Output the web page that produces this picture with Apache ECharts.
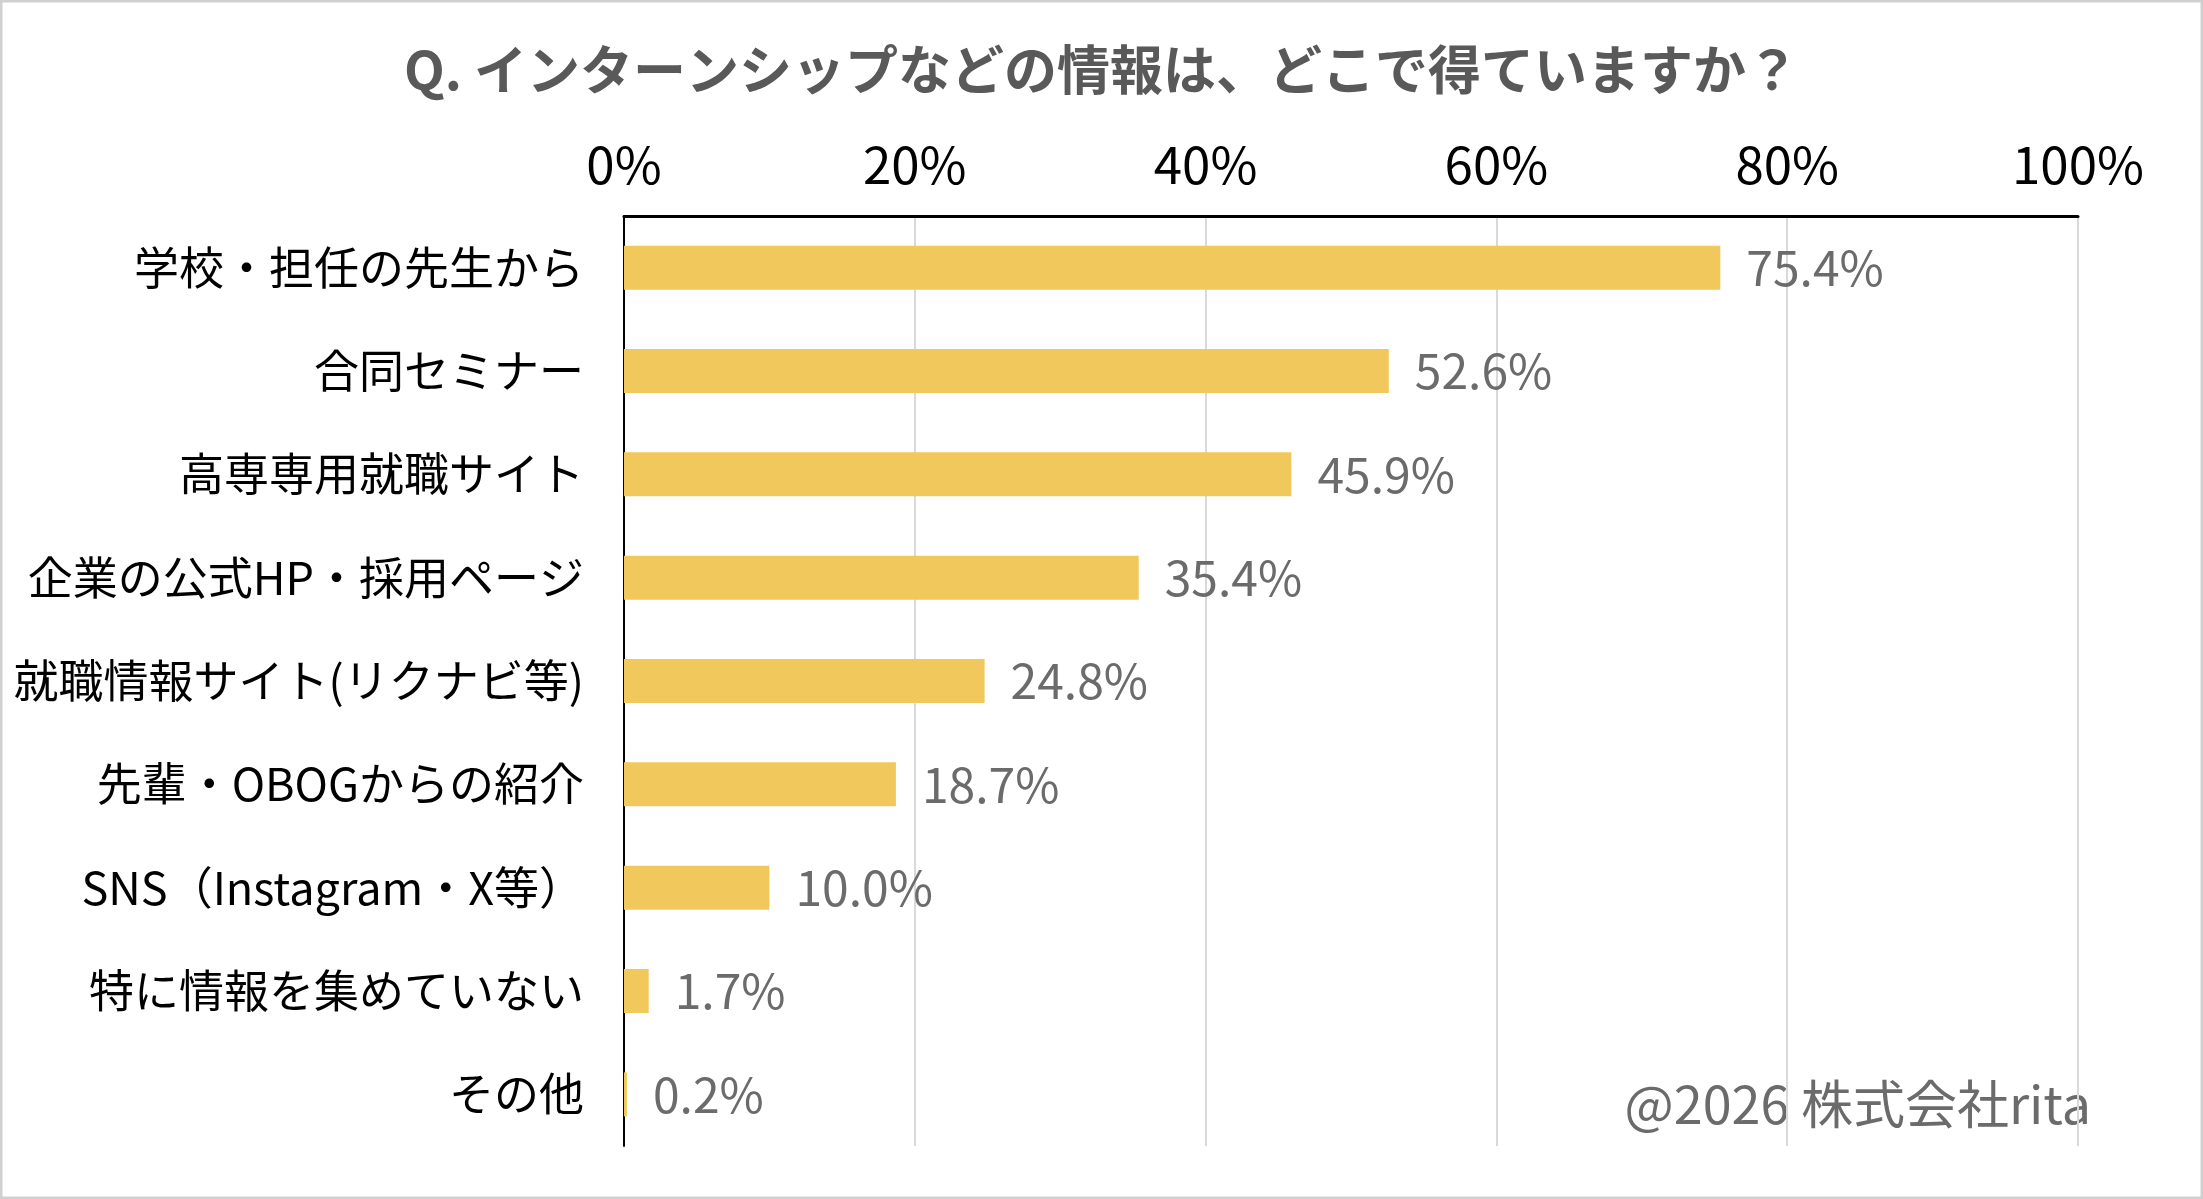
<!DOCTYPE html>
<html lang="ja">
<head>
    <meta charset="UTF-8">
    <title>インターンシップ情報源</title>
    <script src="https://cdn.jsdelivr.net/npm/echarts@6/dist/echarts.min.js"></script>
    <style>
        html, body { margin: 0; padding: 0; background: #fff; }
        #main { width: 2203px; height: 1199px; }
    </style>
</head>
<body>
<div id="main"></div>
<script>
    // 上から順に並べた項目と割合(%)
    var categories = [
        '学校・担任の先生から',
        '合同セミナー',
        '高専専用就職サイト',
        '企業の公式HP・採用ページ',
        '就職情報サイト(リクナビ等)',
        '先輩・OBOGからの紹介',
        'SNS（Instagram・X等）',
        '特に情報を集めていない',
        'その他'
    ];
    var values = [75.4, 52.6, 45.9, 35.4, 24.8, 18.7, 10.0, 1.7, 0.2];
    var axisTicks = [0, 20, 40, 60, 80, 100];

    var font = '"Noto Sans CJK JP", "Noto Sans", sans-serif';
    var chart = echarts.init(document.getElementById('main'));

    var option = {
        backgroundColor: '#fff',
        textStyle: { fontFamily: font },
        title: {
            text: 'Q. インターンシップなどの情報は、どこで得ていますか？',
            left: 'center',
            top: 38,
            textStyle: { fontSize: 53, fontWeight: 'bold', color: '#595959', fontFamily: font }
        },
        grid: { left: 624, right: 125, top: 216, bottom: 53 },
        xAxis: {
            type: 'value',
            position: 'top',
            min: axisTicks[0],
            max: axisTicks[axisTicks.length - 1],
            interval: 20,
            axisLine: { show: true, lineStyle: { color: '#000', width: 3 } },
            axisTick: { show: false },
            axisLabel: { formatter: '{value}%', fontSize: 51, color: '#000', margin: 26, fontFamily: font },
            splitLine: { show: true, lineStyle: { color: '#d9d9d9', width: 2 } }
        },
        yAxis: {
            type: 'category',
            inverse: true,
            data: categories,
            axisLine: { show: true, lineStyle: { color: '#000', width: 2 } },
            axisTick: { show: false },
            axisLabel: { fontSize: 45, color: '#000', margin: 40, fontFamily: font }
        },
        series: [{
            type: 'bar',
            data: values,
            barWidth: 44,
            itemStyle: { color: '#F0C85C' },
            label: {
                show: true,
                position: 'right',
                distance: 26,
                formatter: function (p) { return p.value.toFixed(1) + '%'; },
                fontSize: 48,
                color: '#6b6b6b',
                fontFamily: font
            }
        }],
        graphic: [
            {
                type: 'rect',
                shape: { x: 1, y: 1, width: 2201, height: 1197 },
                style: { fill: 'none', stroke: '#d0d0d0', lineWidth: 3 },
                silent: true
            },
            {
                type: 'text',
                right: 112,
                top: 1078,
                style: { text: '@2026 株式会社rita', fontSize: 52, fill: '#6b6b6b', fontFamily: font }
            }
        ]
    };
    chart.setOption(option);
</script>
</body>
</html>
